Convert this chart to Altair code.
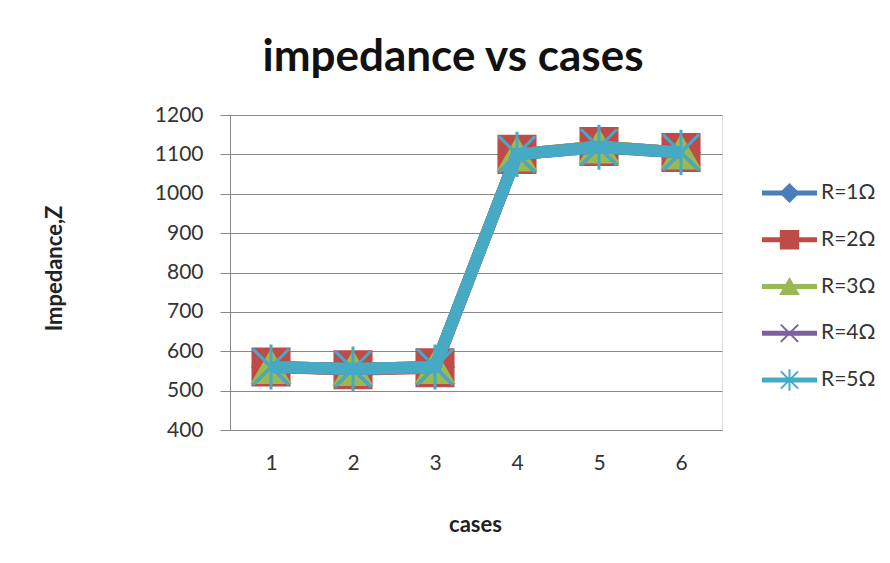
import altair as alt
import pandas as pd

cases = [1, 2, 3, 4, 5, 6]
series = ["R=1Ω", "R=2Ω", "R=3Ω", "R=4Ω", "R=5Ω"]
z_r1 = [560, 555, 560, 1100, 1120, 1105]
z_r2 = [560, 553, 558, 1100, 1120, 1105]
z_r3 = [560, 555, 560, 1100, 1120, 1105]
z_r4 = [560, 555, 560, 1100, 1118, 1105]
z_r5 = [560, 555, 560, 1100, 1118, 1105]
colors = ["#4A7EBB", "#BE4B48", "#98B954", "#7D60A0", "#46AAC5"]
shapes = ["diamond", "square", "triangle-up",
          "M-1,-1L1,1M-1,1L1,-1",
          "M-1,-1L1,1M-1,1L1,-1M0,-1.25L0,1.25"]
y_ticks = [400, 500, 600, 700, 800, 900, 1000, 1100, 1200]

values = [z_r1, z_r2, z_r3, z_r4, z_r5]
rows = []
for s, vals in zip(series, values):
    for c, v in zip(cases, vals):
        rows.append({"case": str(c), "Z": v, "series": s})
df = pd.DataFrame(rows)

FONT = "Lato"
color_scale = alt.Scale(domain=series, range=colors)
shape_scale = alt.Scale(domain=series, range=shapes)

x_enc = alt.X("case:O", scale=alt.Scale(type="point", padding=0.5),
              axis=alt.Axis(title="cases", labelAngle=0, ticks=False, labelPadding=22,
                            labelFontSize=21, labelColor="#333333", labelFont=FONT,
                            titleFont=FONT, titleFontSize=22, titleFontWeight="bold",
                            titleColor="#222222", titleX=245, titleY=94,
                            titleBaseline="middle", domainColor="#888888", grid=False))
y_enc = alt.Y("Z:Q", scale=alt.Scale(domain=[400, 1200], nice=False),
              axis=alt.Axis(title="Impedance,Z", values=y_ticks, format="d", tickSize=10,
                            labelPadding=17, labelFontSize=21, labelColor="#333333",
                            labelFont=FONT, titleFont=FONT, titleFontSize=22,
                            titleFontWeight="bold", titleColor="#222222",
                            titleX=-176, titleY=153, titleAlign="center",
                            titleBaseline="middle", titleAngle=270,
                            domainColor="#888888", tickColor="#888888",
                            gridColor="#888888", grid=True))

layers = []
for s in series:
    base = alt.Chart(df).transform_filter(alt.datum.series == s)
    line = base.mark_line(strokeWidth=12).encode(
        x=x_enc, y=y_enc,
        color=alt.Color("series:N", scale=color_scale, legend=None))
    pts = base.mark_point(filled=True, size=1300, strokeWidth=3, opacity=1).encode(
        x=x_enc, y=y_enc,
        fill=alt.Fill("series:N", scale=color_scale, legend=None),
        stroke=alt.Stroke("series:N", scale=color_scale, legend=None),
        shape=alt.Shape("series:N", scale=shape_scale, legend=None))
    layers += [line, pts]
main = alt.layer(*layers)

# legend
leg_rows = []
for i, s in enumerate(series):
    leg_rows.append({"series": s, "idx": i, "lx": 0.0})
    leg_rows.append({"series": s, "idx": i, "lx": 1.0})
leg = pd.DataFrame(leg_rows)
leg_pt = pd.DataFrame({"series": series, "idx": list(range(5)), "lx": [0.5] * 5})
leg_txt = pd.DataFrame({"series": series, "idx": list(range(5)), "lx": [1.0] * 5})

lx = alt.X("lx:Q", scale=alt.Scale(domain=[0, 1], range=[532, 587]), axis=None)
ly = alt.Y("idx:Q", scale=alt.Scale(domain=[0, 4], range=[78, 265]), axis=None)
leg_line = alt.Chart(leg).mark_line(strokeWidth=5).encode(
    x=lx, y=ly, detail="series:N",
    color=alt.Color("series:N", scale=color_scale, legend=None))
leg_marker = alt.Chart(leg_pt).mark_point(filled=True, size=300, strokeWidth=2, opacity=1).encode(
    x=lx, y=ly,
    fill=alt.Fill("series:N", scale=color_scale, legend=None),
    stroke=alt.Stroke("series:N", scale=color_scale, legend=None),
    shape=alt.Shape("series:N", scale=shape_scale, legend=None))
leg_text = alt.Chart(leg_txt).mark_text(align="left", baseline="middle", dx=4,
                                        fontSize=21, font=FONT, color="#333333").encode(
    x=lx, y=ly, text="series:N")
legend = alt.layer(leg_line, leg_marker, leg_text)

chart = alt.layer(main, legend).resolve_scale(x="independent", y="independent").properties(
    width=492, height=315,
    title=alt.TitleParams("impedance vs cases", font=FONT, fontSize=44, fontWeight="bold",
                          color="#111111", anchor="middle", dx=-23, offset=24),
    autosize=alt.AutoSizeParams(type="none"),
    padding={"left": 222, "top": 107, "right": 160, "bottom": 125},
).configure_view(stroke=None).configure(background="white")

chart.save("out.html", embed_options={"renderer": "svg", "actions": False})
